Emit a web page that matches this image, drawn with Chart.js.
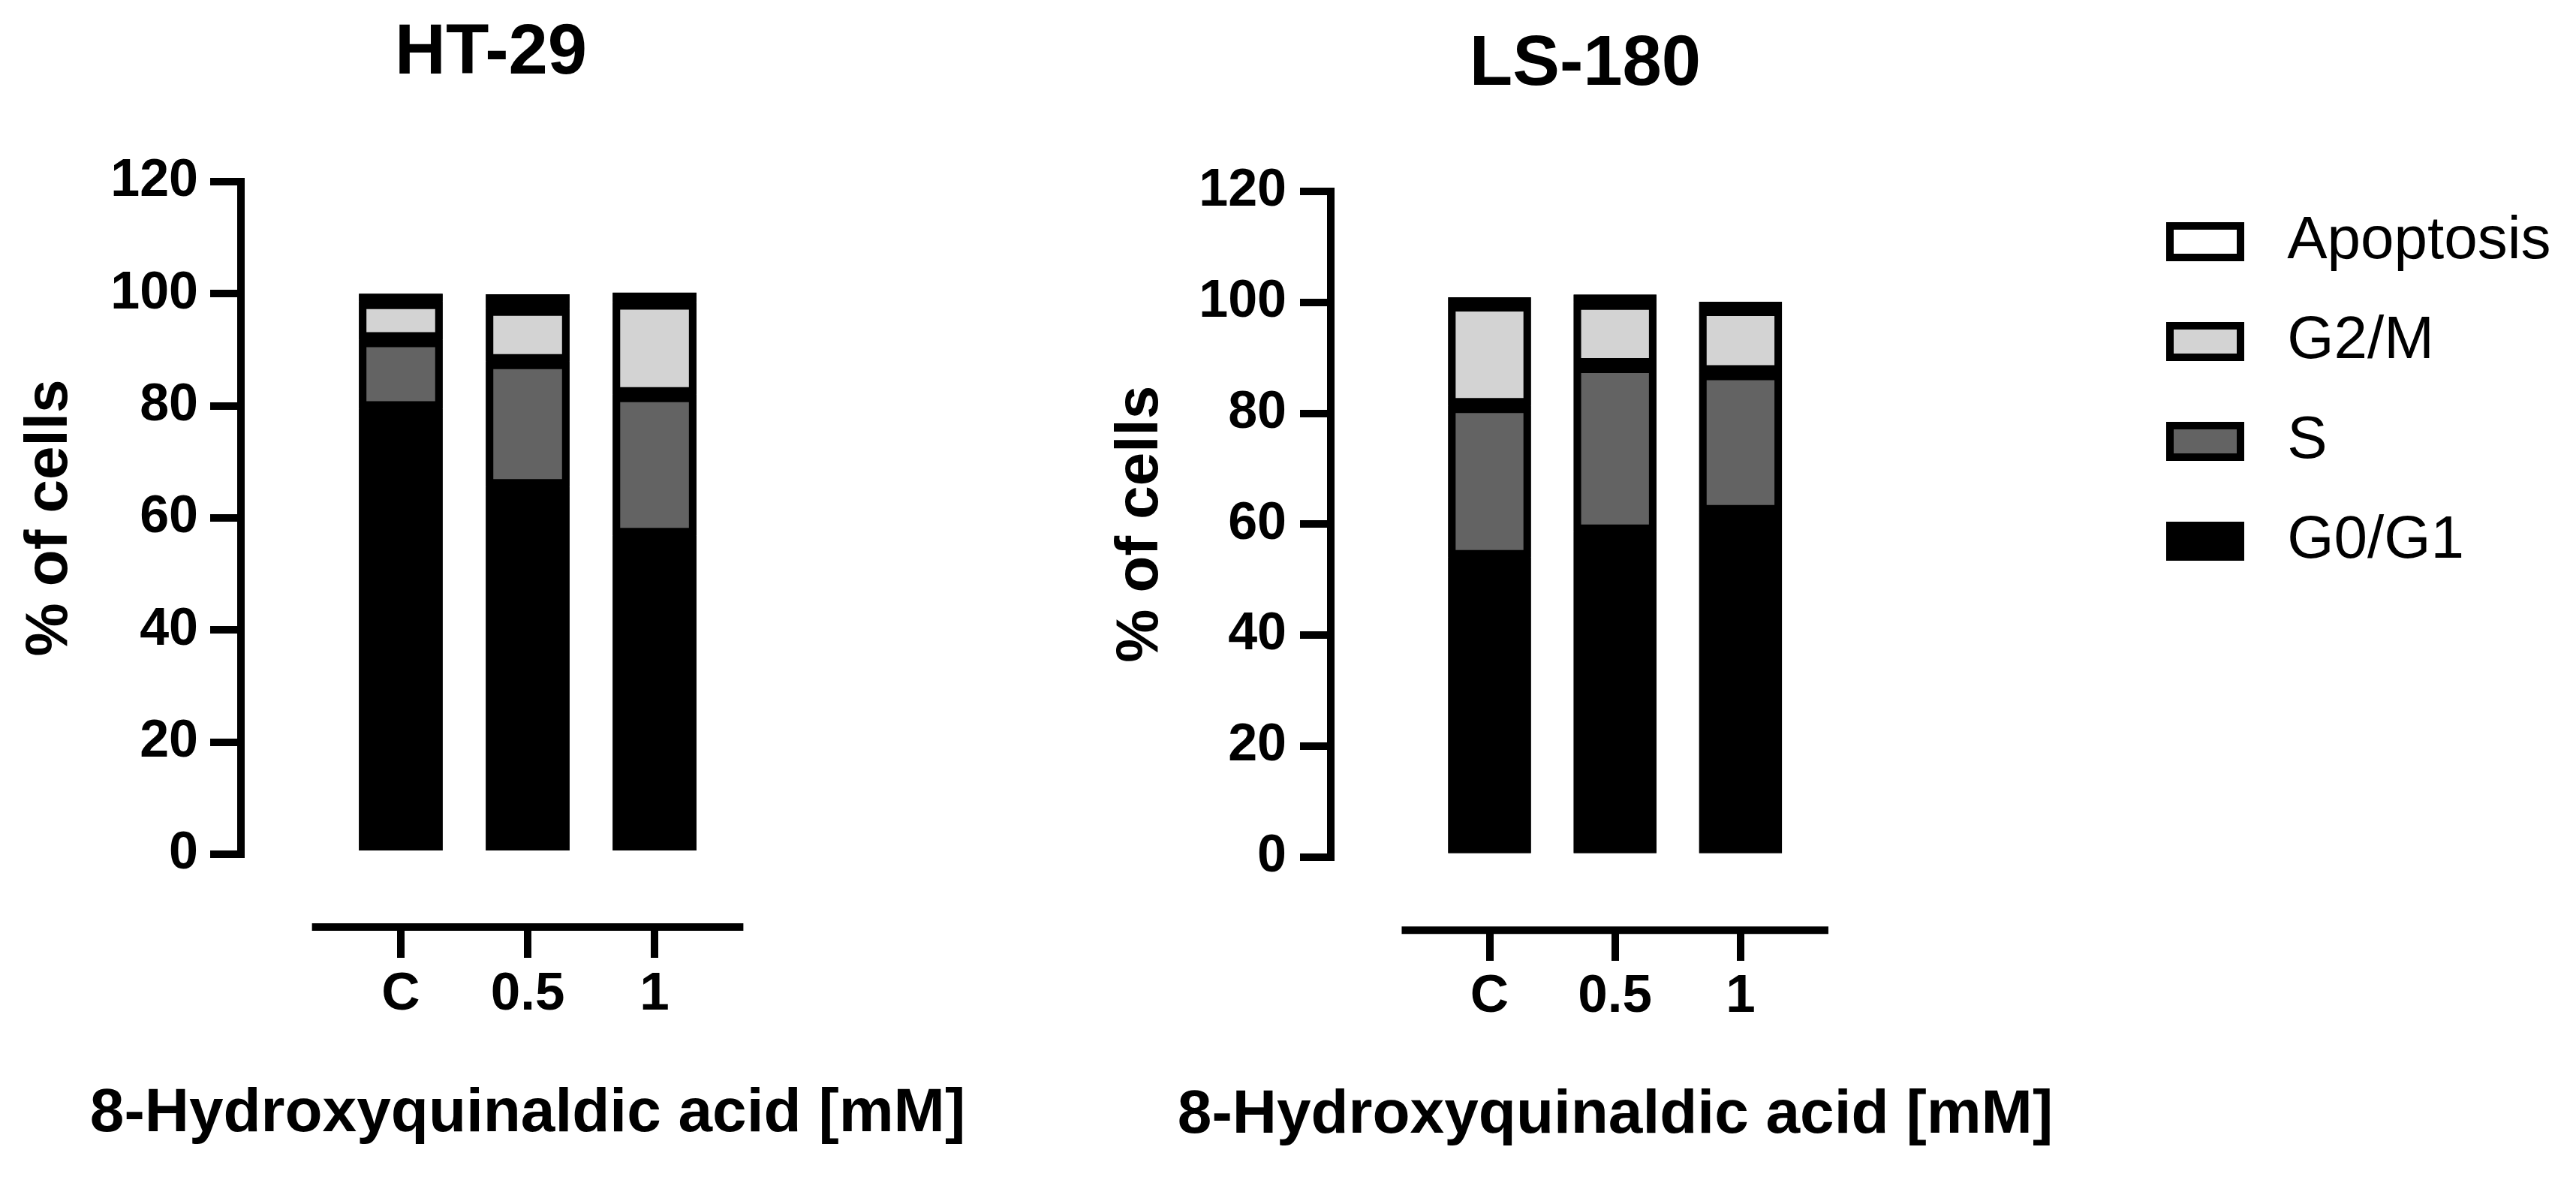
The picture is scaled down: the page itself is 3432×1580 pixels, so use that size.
<!DOCTYPE html>
<html>
<head>
<meta charset="utf-8">
<script src="https://cdn.jsdelivr.net/npm/chart.js@4.4.1/dist/chart.umd.min.js"></script>
<style>
  body { margin: 0; background: #fff; }
  canvas { position: absolute; top: 0; }
</style>
</head>
<body>
<canvas id="ht29" width="1406" height="1580" style="left:0px"></canvas>
<canvas id="ls180" width="1404" height="1580" style="left:1450px"></canvas>
<canvas id="legend" width="632" height="1580" style="left:2800px"></canvas>
<script>
// doses on the x axis, phases stacked bottom -> top
const doses = ['C', '0.5', '1'];
const phases = ['G0/G1', 'S', 'G2/M', 'Apoptosis'];
const phaseColors = ['#000000', '#636363', '#d3d3d3', '#ffffff'];

const ht29G0G1 = [79.5, 65.6, 56.9];
const ht29S = [12.3, 22.3, 25.1];
const ht29G2M = [6.8, 9.5, 16.5];
const ht29Apoptosis = [1.4, 2.5, 1.7];

const ls180G0G1 = [54.0, 58.6, 62.1];
const ls180S = [27.4, 30.0, 25.2];
const ls180G2M = [18.3, 11.4, 11.6];
const ls180Apoptosis = [1.2, 1.4, 1.2];

const FONT = '"Liberation Sans", Arial, sans-serif';
Chart.defaults.font.family = FONT;
Chart.defaults.color = '#000';

// Prism-style detached x axis line, drawn in axis units
const offsetXAxis = {
  id: 'offsetXAxis',
  afterDraw(chart, args, opts) {
    const { ctx, scales: { x, y } } = chart;
    const yPx = y.getPixelForValue(opts.at);
    ctx.save();
    ctx.strokeStyle = '#000';
    ctx.lineWidth = 10;
    ctx.beginPath();
    ctx.moveTo(x.getPixelForValue(opts.from), yPx);
    ctx.lineTo(x.getPixelForValue(opts.to), yPx);
    ctx.stroke();
    ctx.restore();
  }
};

// black backing behind each stack so antialiased segment edges don't leave light seams
const stackBacking = {
  id: 'stackBacking',
  beforeDatasetsDraw(chart) {
    const { ctx } = chart;
    const first = chart.getDatasetMeta(0).data;
    const last = chart.getDatasetMeta(chart.data.datasets.length - 1).data;
    ctx.save();
    ctx.fillStyle = '#000';
    first.forEach((bar, i) => {
      const { x, width, base } = bar.getProps(['x', 'width', 'base'], true);
      const topY = last[i].getProps(['y'], true).y;
      ctx.fillRect(x - width / 2, topY, width, base - topY);
    });
    ctx.restore();
  }
};

function stackedSets(series) {
  return series.map((vals, i) => ({
    label: phases[i],
    data: vals.map((v, j) => ({ x: j, y: v })),
    backgroundColor: phaseColors[i],
    borderColor: '#000',
    borderWidth: 10,
    borderSkipped: false,
    barPercentage: 0.66,
    categoryPercentage: 1,
    xAxisID: 'x',
    yAxisID: 'y'
  }));
}

function makePanel(id, title, series, g) {
  return new Chart(document.getElementById(id), {
    type: 'bar',
    data: { datasets: stackedSets(series) },
    plugins: [stackBacking, offsetXAxis],
    options: {
      responsive: false,
      animation: false,
      devicePixelRatio: 1,
      layout: { padding: 0 },
      scales: {
        x: {
          type: 'linear',
          position: { y: g.xAt },
          stacked: true,
          offset: false,
          min: g.xMin,
          max: g.xMax,
          afterBuildTicks: (s) => { s.ticks = doses.map((d, i) => ({ value: i })); },
          ticks: {
            callback: (v) => doses[v],
            autoSkip: false,
            maxRotation: 0,
            padding: g.xLabelPad,
            font: { size: 71, weight: 'bold' }
          },
          grid: { display: true, offset: false, drawOnChartArea: false, tickLength: 41, lineWidth: 10, color: '#000' },
          border: { display: false }
        },
        y: {
          position: 'left',
          stacked: true,
          min: 0,
          max: 120,
          ticks: { stepSize: 20, padding: g.yLabelPad, font: { size: 70, weight: 'bold' } },
          afterFit: (s) => { s.width = g.yWidth; },
          grid: { display: true, drawOnChartArea: false, tickLength: 41, lineWidth: 10, color: '#000' },
          border: { display: true, width: 10, color: '#000' },
          title: {
            display: true,
            text: '% of cells',
            font: { size: 80, weight: 'bold' },
            padding: { top: g.yTitlePad, bottom: 0 }
          }
        },
        yPad: {
          axis: 'y',
          position: 'right',
          ticks: { display: false },
          grid: { display: false },
          border: { display: false },
          afterFit: (s) => { s.width = g.rightW; }
        }
      },
      plugins: {
        legend: { display: false },
        tooltip: { enabled: false },
        title: {
          display: true,
          fullSize: false,
          text: title,
          font: { size: 94, weight: 'bold' },
          padding: { top: g.titleTop, bottom: g.titleBottom }
        },
        subtitle: {
          display: true,
          position: 'bottom',
          text: '8-Hydroxyquinaldic acid [mM]',
          color: '#000',
          font: { size: 82, weight: 'bold' },
          padding: { top: g.xTitleTop, bottom: g.xTitleBottom }
        },
        offsetXAxis: { from: -0.7, to: 2.7, at: g.xAt }
      }
    }
  });
}

makePanel('ht29', 'HT-29', [ht29G0G1, ht29S, ht29G2M, ht29Apoptosis], {
  titleTop: 16, titleBottom: 113.2, xTitleTop: 296.8, xTitleBottom: 46.8,
  yWidth: 321, rightW: 419, yLabelPad: 16, yTitlePad: 19,
  xMin: -1.26, xMax: 2.68, xAt: -13, xLabelPad: 7
});

makePanel('ls180', 'LS-180', [ls180G0G1, ls180S, ls180G2M, ls180Apoptosis], {
  titleTop: 31.1, titleBottom: 111.1, xTitleTop: 295.2, xTitleBottom: 44.8,
  yWidth: 323, rightW: 403, yLabelPad: 18, yTitlePad: 22,
  xMin: -1.265, xMax: 2.79, xAt: -13.2, xLabelPad: 6
});

// shared legend, top entry = top of the stack
new Chart(document.getElementById('legend'), {
  type: 'bar',
  data: {
    labels: [],
    datasets: phases.map((p, i) => ({
      label: p, data: [], backgroundColor: phaseColors[i], borderColor: '#000', borderWidth: 10
    }))
  },
  options: {
    responsive: false,
    animation: false,
    devicePixelRatio: 1,
    layout: { padding: { left: 38, top: 229 } },
    scales: { x: { display: false }, y: { display: false } },
    plugins: {
      tooltip: { enabled: false },
      legend: {
        position: 'top',
        align: 'start',
        reverse: true,
        labels: {
          boxWidth: 94,
          boxHeight: 42,
          padding: 53,
          color: '#000',
          font: { size: 80 },
          generateLabels: (chart) => Chart.defaults.plugins.legend.labels.generateLabels(chart)
            .map((item) => ({ ...item, text: ' ' + item.text }))
        }
      }
    }
  }
});
</script>
</body>
</html>
